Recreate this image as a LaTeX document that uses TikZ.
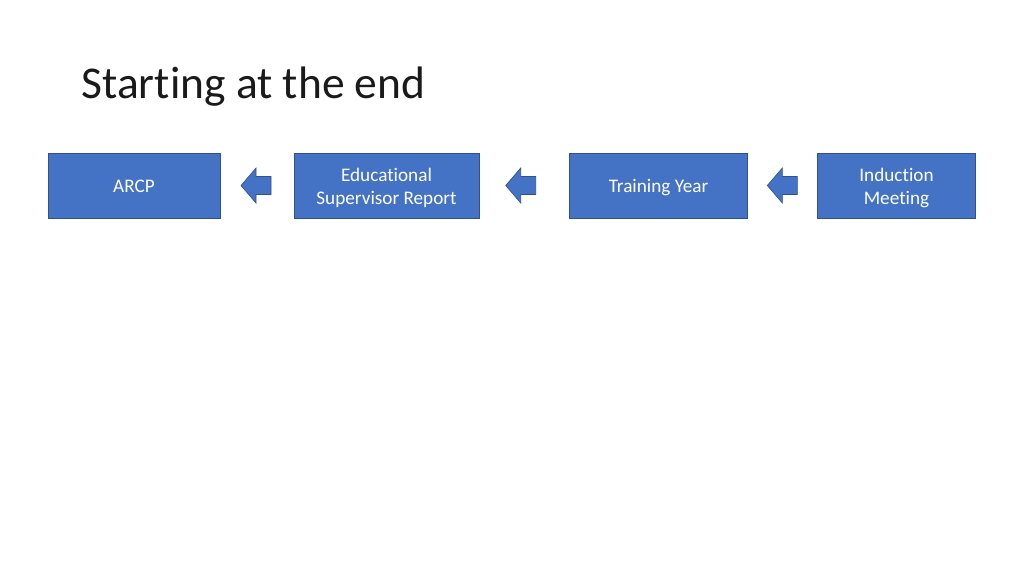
\documentclass[tikz,border=0pt]{standalone}
\usepackage{fontspec}
\setmainfont{Carlito}[Ligatures=NoCommon]
\usetikzlibrary{positioning}
\definecolor{BoxClr}{HTML}{4472C4}
\definecolor{EdgeClr}{HTML}{2F528F}
\definecolor{TitleClr}{HTML}{1A1A1A}

\begin{document}
\begin{tikzpicture}[x=1pt,y=-1pt,
  stepbox/.style={draw=EdgeClr,line width=0.9pt,fill=BoxClr,text=white,
    minimum height=65pt,inner sep=0pt,align=center,
    text height=14.7pt,text depth=0pt,
    font=\fontsize{19.2}{22.5}\selectfont},
  twoline/.style={text height=37.4pt},
  backarrow/.pic={
    \draw[draw=EdgeClr,line width=0.6pt,fill=BoxClr]
      (-15,0) -- (0,-17.5) -- (0,-9) -- (15,-9) -- (15,9) -- (0,9) -- (0,17.5) -- cycle;}]
\useasboundingbox (0,0) rectangle (1024,576);

\node[anchor=base west,text=TitleClr,font=\fontsize{45.5}{54}\selectfont] (title) at (78,98) {Starting at the end};

\node[stepbox,minimum width=172pt] (arcp) at (134,185.5) {ARCP};
\node[stepbox,twoline,minimum width=185pt] (esr) at (386.5,185.5) {Educational\\Supervisor Report};
\node[stepbox,minimum width=178pt] (year) at (658.5,185.5) {Training Year};
\node[stepbox,twoline,minimum width=158pt] (induct) at (896.5,185.5) {Induction\\Meeting};

\pic (a1) at (256,185.5) {backarrow};
\pic (a2) at (520.7,185.5) {backarrow};
\pic (a3) at (782.3,185.5) {backarrow};

\end{tikzpicture}
\end{document}
